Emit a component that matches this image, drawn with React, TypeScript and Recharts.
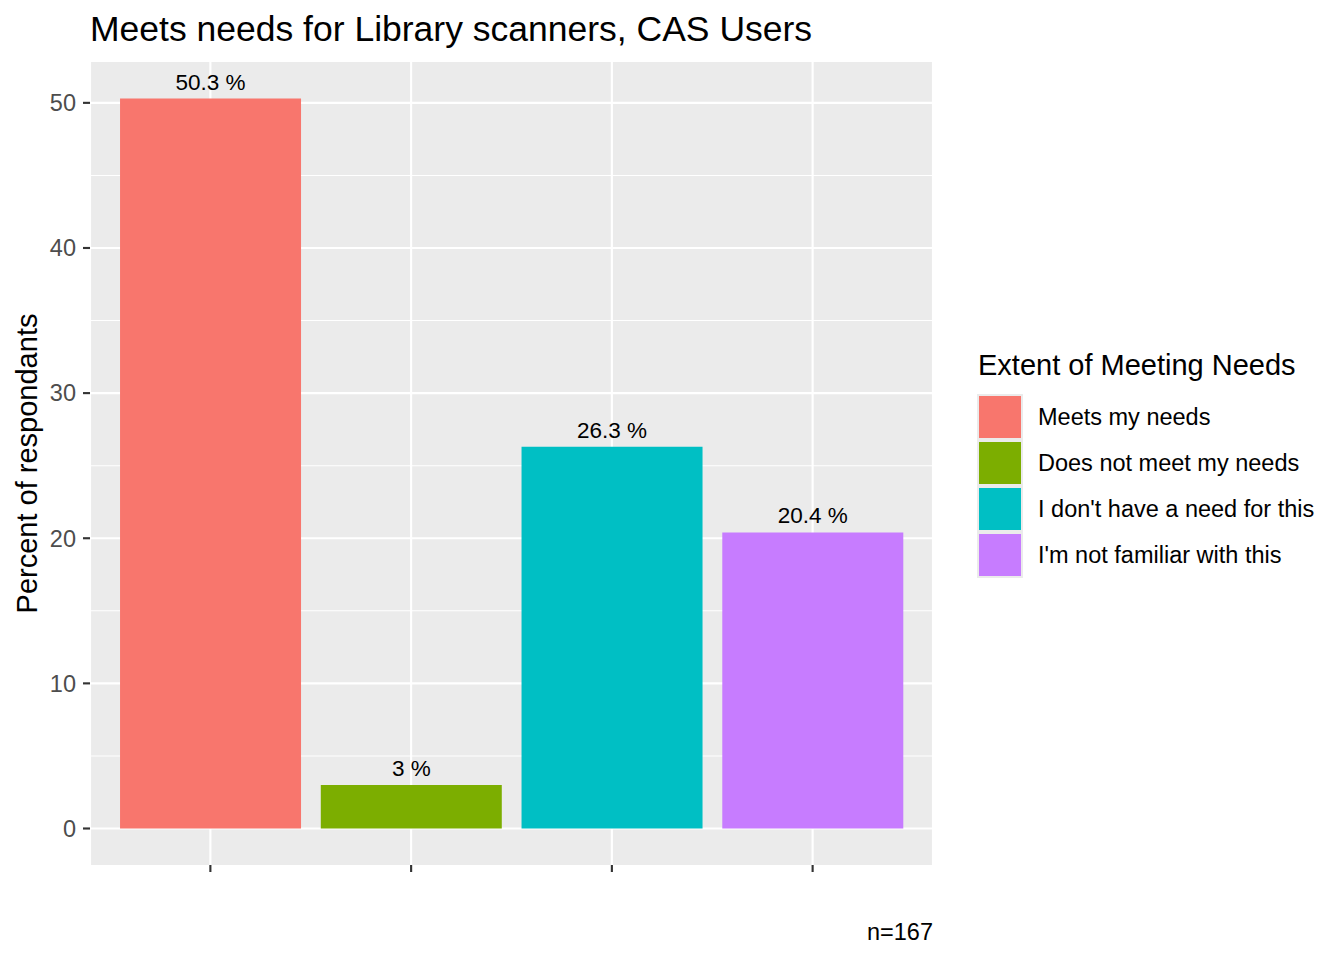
import React from 'react';
import { BarChart, Bar, XAxis, YAxis, CartesianGrid, Cell, LabelList, Legend } from 'recharts';

const categories = ['Meets my needs', 'Does not meet my needs', "I don't have a need for this", "I'm not familiar with this"];
const percents = [50.3, 3, 26.3, 20.4];
const colors = ['#F8766D', '#7CAE00', '#00BFC4', '#C77CFF'];
const yTicks = [0, 10, 20, 30, 40, 50];
const yMinorTicks = [5, 15, 25, 35, 45];
const title = 'Meets needs for Library scanners, CAS Users';
const yTitle = 'Percent of respondants';
const legendTitle = 'Extent of Meeting Needs';
const caption = 'n=167';

const data = categories.map((c, i) => ({ category: c, value: percents[i] }));
const yMax = Math.max(...percents);
const yExp = 0.05 * yMax;
const yDomain: [number, number] = [-yExp, yMax + yExp];

const FONT = '"Liberation Sans", Arial, Helvetica, sans-serif';

const renderLabel = (props: any) => {
  const { x, y, width, value } = props;
  return (
    <text x={x + width / 2} y={y - 9} textAnchor="middle" fontSize={22.5} fill="#000" fontFamily={FONT}>
      {`${value} %`}
    </text>
  );
};

const renderLegend = () => (
  <svg width={374} height={250} style={{ overflow: 'visible' }}>
    <text x={8} y={35} fontSize={29} fill="#000" fontFamily={FONT}>{legendTitle}</text>
    {categories.map((c, i) => (
      <g key={c}>
        <rect x={7} y={54 + i * 46} width={46} height={46} fill="#EBEBEB" />
        <rect x={9} y={56 + i * 46} width={42} height={42} fill={colors[i]} />
        <text x={68} y={77 + i * 46} dy="0.35em" fontSize={23.5} fill="#000" fontFamily={FONT}>{c}</text>
      </g>
    ))}
  </svg>
);

const EmptyTick = () => <g />;

export default function App() {
  return (
    <div style={{ position: 'absolute', left: 0, top: 0, width: 1344, height: 960, background: '#fff', fontFamily: FONT }}>
      <BarChart
        width={1344}
        height={960}
        data={data}
        margin={{ top: 62, right: 411, bottom: 0, left: 0 }}
        barCategoryGap="5%"
      >
        <CartesianGrid horizontalValues={yMinorTicks} vertical={false} stroke="#FFFFFF" strokeWidth={1.07} fill="#EBEBEB" />
        <CartesianGrid horizontalValues={yTicks} stroke="#FFFFFF" strokeWidth={2.13} />
        <XAxis
          dataKey="category"
          type="category"
          height={95}
          padding={{ left: 20, right: 20 }}
          axisLine={false}
          tickLine={{ stroke: '#333333', strokeWidth: 2.13 }}
          tickSize={7}
          tick={<EmptyTick />}
          interval={0}
        />
        <YAxis
          type="number"
          domain={yDomain}
          ticks={yTicks}
          interval={0}
          allowDataOverflow
          width={90}
          axisLine={false}
          tickLine={{ stroke: '#333333', strokeWidth: 2.13 }}
          tickSize={7}
          tickMargin={7}
          tick={{ fill: '#4D4D4D', fontSize: 23.5, fontFamily: FONT }}
        />
        <Bar dataKey="value" isAnimationActive={false}>
          {data.map((d, i) => (
            <Cell key={d.category} fill={colors[i]} />
          ))}
          <LabelList dataKey="value" content={renderLabel} />
        </Bar>
        <Legend
          layout="vertical"
          align="center"
          verticalAlign="middle"
          content={renderLegend}
          wrapperStyle={{ position: 'absolute', left: 970, top: 340, width: 374, height: 250 }}
        />
        <text x={90} y={41} fontSize={35.5} fill="#000" fontFamily={FONT}>{title}</text>
        <text x={37} y={463.5} fontSize={29} fill="#000" fontFamily={FONT} textAnchor="middle" transform="rotate(-90 37 463.5)">{yTitle}</text>
        <text x={933} y={940} fontSize={23.5} fill="#000" fontFamily={FONT} textAnchor="end">{caption}</text>
      </BarChart>
    </div>
  );
}
